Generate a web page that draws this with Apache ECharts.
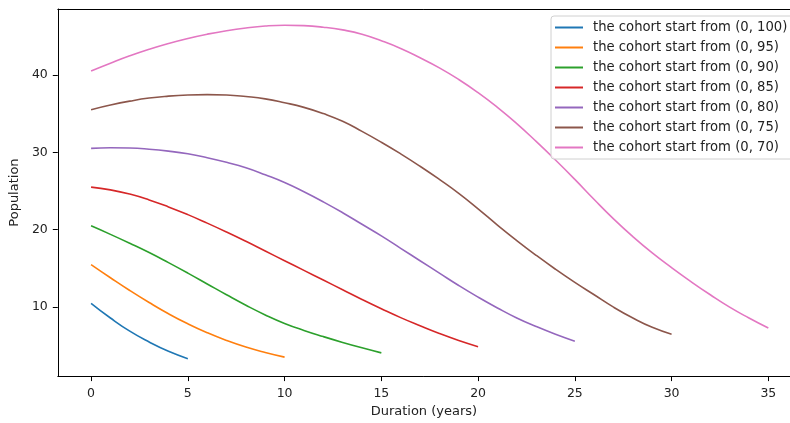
<!DOCTYPE html>
<html>
<head>
    <meta charset="utf-8">
    <title>Cohorts</title>
    <script src="https://cdn.jsdelivr.net/npm/echarts@6/dist/echarts.min.js"></script>
    <style>
        html, body { margin: 0; padding: 0; background: #fff; }
    </style>
</head>
<body>
<div id="main" style="width: 790px; height: 423px;"></div>
<script type="text/javascript">
    // population by duration (years 0..n), one array per cohort
    var cohort100 = [10.5, 8.6, 6.9, 5.5, 4.3, 3.35];
    var cohort95 = [15.5, 13.8, 12.15, 10.6, 9.15, 7.85, 6.7, 5.7, 4.85, 4.15, 3.55];
    var cohort90 = [20.5, 19.4, 18.25, 17.05, 15.75, 14.4, 13.0, 11.6, 10.25, 9.0, 7.9, 7.0, 6.2, 5.45, 4.75, 4.1];
    var cohort85 = [25.5, 25.15, 24.6, 23.85, 22.95, 21.95, 20.85, 19.7, 18.5, 17.25, 16.0, 14.75, 13.5,
        12.25, 11.0, 9.8, 8.65, 7.6, 6.6, 5.7, 4.9];
    var cohort80 = [30.5, 30.58, 30.55, 30.4, 30.15, 29.8, 29.3, 28.7, 28.0, 27.1, 26.1, 24.9, 23.6,
        22.2, 20.7, 19.2, 17.6, 16.0, 14.4, 12.8, 11.3, 9.9, 8.6, 7.5, 6.5, 5.6];
    var cohort75 = [35.5, 36.1, 36.6, 37.0, 37.25, 37.4, 37.45, 37.4, 37.2, 36.9, 36.4, 35.8, 35.0,
        34.0, 32.7, 31.3, 29.8, 28.2, 26.5, 24.7, 22.7, 20.6, 18.6, 16.7, 14.9, 13.2, 11.6, 10.0,
        8.6, 7.4, 6.5];
    var cohort70 = [40.5, 41.5, 42.45, 43.3, 44.05, 44.7, 45.25, 45.7, 46.05, 46.3, 46.4, 46.35, 46.15,
        45.8, 45.25, 44.4, 43.4, 42.2, 40.9, 39.4, 37.7, 35.8, 33.7, 31.4, 29.0, 26.5, 23.9, 21.4,
        19.1, 17.0, 15.1, 13.3, 11.6, 10.0, 8.6, 7.3];

    var seriesNames = ['the cohort start from (0, 100)', 'the cohort start from (0, 95)',
        'the cohort start from (0, 90)', 'the cohort start from (0, 85)',
        'the cohort start from (0, 80)', 'the cohort start from (0, 75)',
        'the cohort start from (0, 70)'];
    var seriesData = [cohort100, cohort95, cohort90, cohort85, cohort80, cohort75, cohort70];
    var colors = ['#1f77b4', '#ff7f0e', '#2ca02c', '#d62728', '#9467bd', '#8c564b', '#e377c2'];

    var xTicks = [0, 5, 10, 15, 20, 25, 30, 35];
    var yTicks = [10, 20, 30, 40];

    function toPairs(arr) {
        var out = [];
        for (var i = 0; i < arr.length; i++) {
            out.push([i, arr[i]]);
        }
        return out;
    }

    var font = 'DejaVu Sans';
    var chart = echarts.init(document.getElementById('main'));

    var series = [];
    for (var k = 0; k < seriesData.length; k++) {
        series.push({
            name: seriesNames[k],
            type: 'line',
            data: toPairs(seriesData[k]),
            smooth: 0.5,
            symbol: 'none',
            lineStyle: { color: colors[k], width: 1.6 },
            itemStyle: { color: colors[k] }
        });
    }

    var option = {
        animation: false,
        color: colors,
        grid: {
            left: 57,
            top: 9,
            right: 0,
            bottom: 44
        },
        legend: {
            orient: 'vertical',
            left: 551,
            top: 16,
            icon: 'rect',
            itemWidth: 28,
            itemHeight: 2,
            itemGap: 5,
            padding: [4, 8, 4, 4],
            backgroundColor: 'rgba(255,255,255,0.8)',
            borderColor: '#d0d0d0',
            borderWidth: 1,
            borderRadius: 3,
            textStyle: {
                fontFamily: font,
                fontSize: 13.2,
                color: '#222',
                lineHeight: 15,
                padding: [0, 0, 0, 5]
            },
            data: seriesNames
        },
        xAxis: [{
            type: 'value',
            min: -1.72,
            max: 36.12,
            name: 'Duration (years)',
            nameLocation: 'middle',
            nameGap: 27,
            nameTextStyle: { fontFamily: font, fontSize: 13, color: '#222' },
            splitLine: { show: false },
            axisLine: { show: true, onZero: false, lineStyle: { color: '#000' } },
            axisTick: { show: true, length: 5, customValues: xTicks, lineStyle: { color: '#000' } },
            axisLabel: { customValues: xTicks, margin: 11, fontFamily: font, fontSize: 12.5, color: '#222' }
        }, {
            type: 'value',
            position: 'top',
            min: -1.72,
            max: 36.12,
            splitLine: { show: false },
            axisLine: { show: true, onZero: false, lineStyle: { color: '#000' } },
            axisTick: { show: false },
            axisLabel: { show: false }
        }],
        yAxis: {
            type: 'value',
            min: 1.1,
            max: 48.5,
            name: 'Population',
            nameLocation: 'middle',
            nameGap: 33,
            nameTextStyle: { fontFamily: font, fontSize: 13, color: '#222' },
            splitLine: { show: false },
            axisLine: { show: true, onZero: false, lineStyle: { color: '#000' } },
            axisTick: { show: true, length: 5, customValues: yTicks, lineStyle: { color: '#000' } },
            axisLabel: { customValues: yTicks, margin: 10, fontFamily: font, fontSize: 12.5, color: '#222' }
        },
        series: series
    };
    chart.setOption(option);
</script>
</body>
</html>
